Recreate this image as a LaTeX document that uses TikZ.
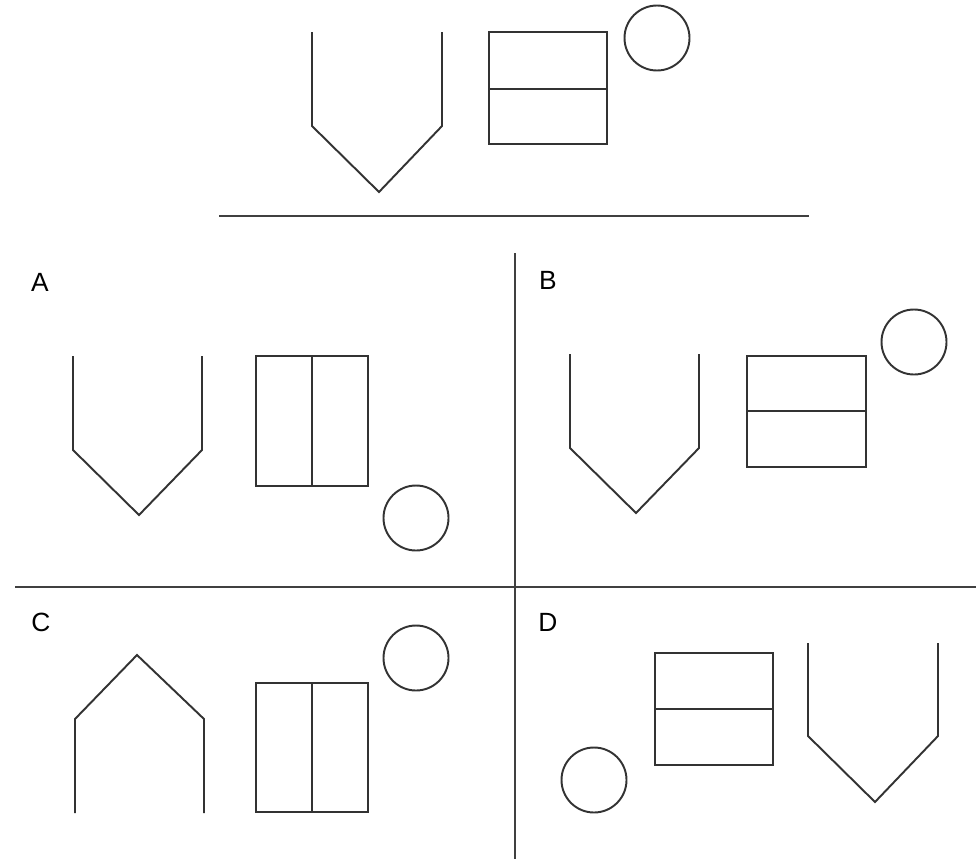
\documentclass[tikz,border=0pt]{standalone}
\usepackage{fontspec}
\setmainfont{Liberation Sans}
\tikzset{
  shape line/.style={line width=1.1pt, black!80, line join=miter},
  rule line/.style={line width=1.2pt, black!75},
  option label/.style={font=\fontsize{15}{18}\selectfont, inner sep=0pt}
}
\begin{document}
\begin{tikzpicture}[x=0.02cm, y=-0.02cm]
    \useasboundingbox (0,0) rectangle (980,859);
    % question
    \draw [shape line] (312,32) -- (312,126) -- (379,192) -- (442,126) -- (442,32);
    \draw [shape line] (489,32) rectangle (607,144);
    \draw [shape line] (489,89) -- (607,89);
    \draw [shape line] (657,38) circle (32.5);
    \draw [rule line] (219,216) -- (809,216);
    % answer grid
    \draw [rule line] (515,253) -- (515,859);
    \draw [rule line] (15,587) -- (976,587);
    % A
    \node [option label] (labA) at (40,282) {A};
    \draw [shape line] (73,356) -- (73,450) -- (139,515) -- (202,450) -- (202,356);
    \draw [shape line] (256,356) rectangle (368,486);
    \draw [shape line] (312,356) -- (312,486);
    \draw [shape line] (416,518) circle (32.5);
    % B
    \node [option label] (labB) at (548,280) {B};
    \draw [shape line] (570,354) -- (570,448) -- (636,513) -- (699,448) -- (699,354);
    \draw [shape line] (747,356) rectangle (866,467);
    \draw [shape line] (747,411) -- (866,411);
    \draw [shape line] (914,342) circle (32.5);
    % C
    \node [option label] (labC) at (41,622) {C};
    \draw [shape line] (75,813) -- (75,719) -- (137,655) -- (204,719) -- (204,813);
    \draw [shape line] (256,683) rectangle (368,812);
    \draw [shape line] (312,683) -- (312,812);
    \draw [shape line] (416,658) circle (32.5);
    % D
    \node [option label] (labD) at (548,622) {D};
    \draw [shape line] (594,780) circle (32.5);
    \draw [shape line] (655,653) rectangle (773,765);
    \draw [shape line] (655,709) -- (773,709);
    \draw [shape line] (808,643) -- (808,736) -- (875,802) -- (938,736) -- (938,643);
\end{tikzpicture}
\end{document}
